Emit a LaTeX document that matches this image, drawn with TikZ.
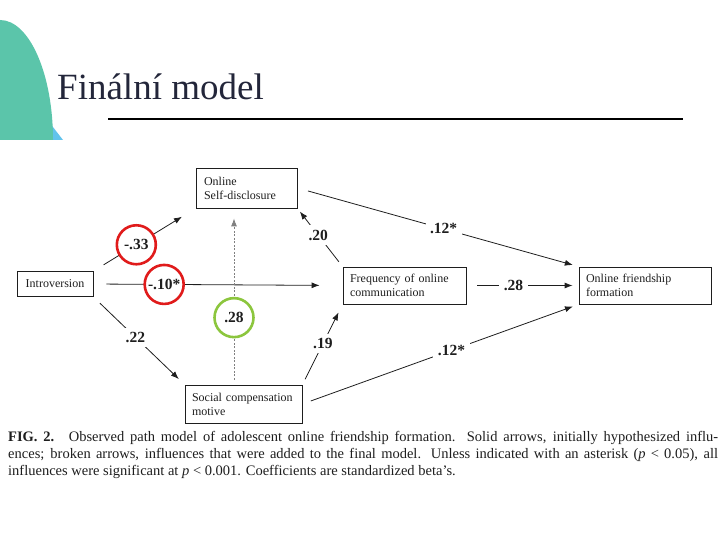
\documentclass[tikz,border=0pt]{standalone}
\usepackage{fontspec}
\setmainfont{Liberation Serif}
\usetikzlibrary{arrows.meta}
\definecolor{tealbg}{HTML}{5BC5AA}
\definecolor{skybg}{HTML}{62C3EC}
\definecolor{titleink}{HTML}{23263A}
\definecolor{ink}{HTML}{1E1E1E}
\definecolor{ringred}{HTML}{E01B1B}
\definecolor{ringgreen}{HTML}{8CC63E}

\begin{document}
\begin{tikzpicture}[x=1pt, y=-1pt, every node/.style={font=\fontsize{12}{14}\selectfont, text=ink}]
\tikzset{var/.style={draw=ink, line width=0.8pt, align=left, inner xsep=7pt, inner ysep=0pt, minimum height=37pt},
  link/.style={draw=ink, line width=0.8pt, -{Latex[length=8pt,width=6pt]}},
  added/.style={link, draw=gray, dash pattern=on 2pt off 1.5pt},
  coef/.style={font=\fontsize{15.5}{17}\selectfont\bfseries, fill=white, inner sep=4.5pt},
  ring/.style={coef, circle, solid, draw=#1, line width=2.6pt, minimum size=39pt, inner sep=0pt}}
\useasboundingbox (0,0) rectangle (720,540);

% slide decoration and heading
\fill[skybg] (46,118) -- (63,140) -- (46,140) -- cycle;
\fill[tealbg] (0,20) arc[start angle=90, end angle=0, x radius=53, y radius=-120] -- (0,140) -- cycle;
\node[anchor=base west, inner sep=0, text=titleink, font=\fontsize{37}{40}\selectfont] (title) at (57,100) {Finální model};
\draw[line width=2pt] (108,119) -- (683,119);

% path model
\node[var, text width=85pt, minimum height=40pt, inner xsep=8pt] (osd) at (246.5,188) {Online\\Self-disclosure};
\node[var, minimum width=76pt, minimum height=25pt, align=center] (intro) at (55,284) {Introversion};
\node[var, text width=109pt] (foc) at (404.5,285.5) {Frequency of online\\communication};
\node[var, text width=118pt] (off) at (645,285.5) {Online friendship\\formation};
\node[var, text width=103pt, minimum height=38pt] (scm) at (243.5,404) {Social compensation\\motive};

\draw[link, shorten <=12pt, shorten >=16pt] (intro.north east) -- node[pos=.42, ring=ringred] {-.33} (osd.south west);
\draw[link, shorten <=13pt, shorten >=23pt] (intro.east) -- node[pos=.284, ring=ringred] {-.10*} (foc.west);
\draw[link, shorten <=9pt, shorten >=8pt] (intro.south east) -- node[pos=.46, coef] {.22} (scm.north west);
\draw[added, shorten <=5pt, shorten >=10pt] ([xshift=-9.5pt]scm.north) -- node[pos=.38, ring=ringgreen] {.28} ([xshift=-12.5pt]osd.south);
\draw[link, shorten <=6pt, shorten >=4pt] (foc.north west) -- node[pos=.54, coef] {.20} (osd.south east);
\draw[link, shorten <=6pt, shorten >=9pt] (scm.north east) -- node[pos=.51, coef] {.19} (foc.south west);
\draw[link, shorten <=11pt, shorten >=6pt] (osd.east) -- node[pos=.52, coef] {.12*} (off.north west);
\draw[link, shorten <=11pt, shorten >=6pt] (foc.east) -- node[pos=.42, coef] {.28} (off.west);
\draw[link, shorten <=9pt, shorten >=6pt] (scm.east) -- node[pos=.54, coef] {.12*} (off.south west);

% caption
\node[anchor=north west, inner sep=0, text width=710pt, align=justify, font=\fontsize{14.5}{17}\selectfont] (caption) at (8,431)
  {\textbf{FIG. 2.}\quad Observed path model of adolescent online friendship formation. Solid arrows, initially hypothesized influ-\linebreak
  ences; broken arrows, influences that were added to the final model. Unless indicated with an asterisk (\textit{p} < 0.05), all\linebreak
  influences were significant at \textit{p} < 0.001. Coefficients are standardized beta’s.};
\end{tikzpicture}
\end{document}
